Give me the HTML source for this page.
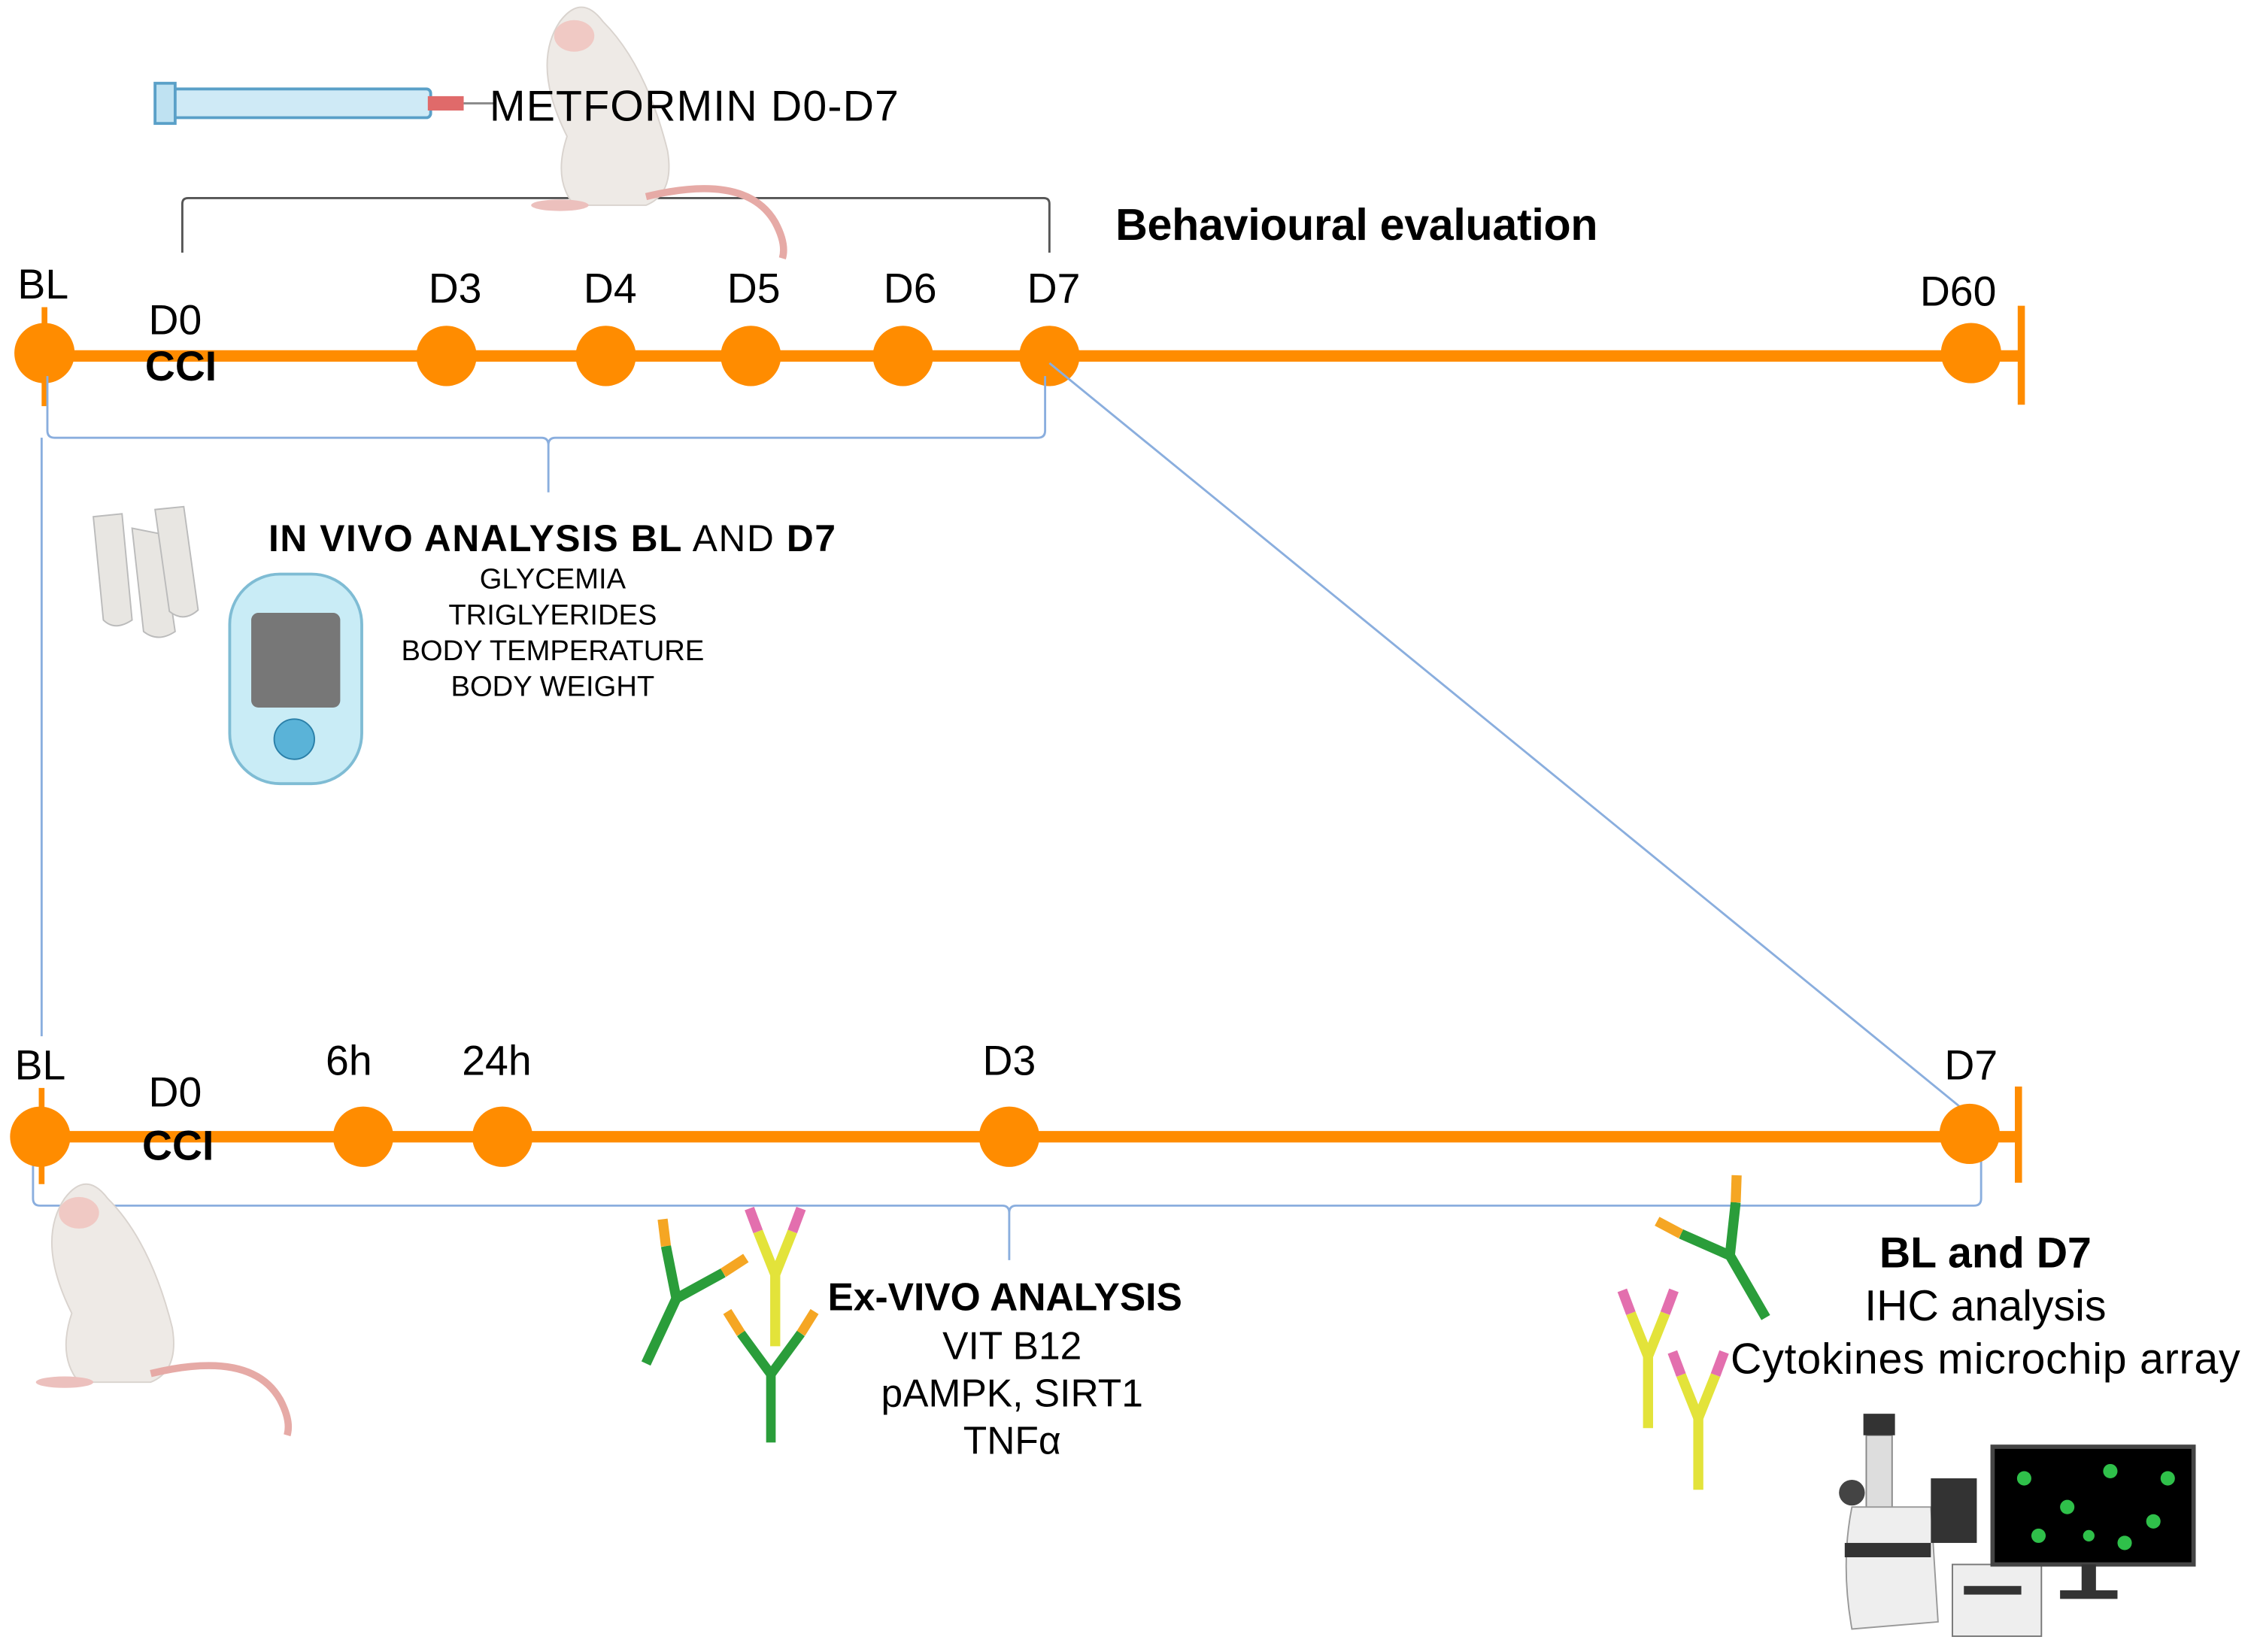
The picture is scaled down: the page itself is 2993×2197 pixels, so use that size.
<!DOCTYPE html>
<html><head><meta charset="utf-8"><style>
html,body{margin:0;padding:0;background:#fff}
svg{display:block}
text{font-family:"Liberation Sans",Arial,sans-serif;fill:#000}
</style></head><body>
<svg width="2993" height="2197" viewBox="0 0 1568 1151" preserveAspectRatio="none" xmlns="http://www.w3.org/2000/svg">
<defs>
<g id="ab">
  <path d="M0 0 L0 -50" stroke="#2a9d3a" stroke-width="7"/>
  <path d="M0 -50 L-22 -80" stroke="#2a9d3a" stroke-width="7"/>
  <path d="M0 -50 L22 -80" stroke="#2a9d3a" stroke-width="7"/>
  <path d="M-22 -80 L-32 -96" stroke="#f5a623" stroke-width="7"/>
  <path d="M22 -80 L32 -96" stroke="#f5a623" stroke-width="7"/>
</g>
<g id="aby">
  <path d="M0 0 L0 -50" stroke="#e3e33a" stroke-width="7"/>
  <path d="M0 -50 L-12 -80" stroke="#e3e33a" stroke-width="7"/>
  <path d="M0 -50 L12 -80" stroke="#e3e33a" stroke-width="7"/>
  <path d="M-12 -80 L-18 -96" stroke="#e36fae" stroke-width="7"/>
  <path d="M12 -80 L18 -96" stroke="#e36fae" stroke-width="7"/>
</g>
<g id="mouse">
  <path d="M-15 -20 Q-40 -70 -20 -100 Q-5 -120 10 -100 Q40 -70 55 -10 Q60 20 40 28 L-10 28 Q-25 10 -15 -20Z" fill="#eeeae6" stroke="#d9d3ce"/>
  <ellipse cx="-10" cy="-90" rx="14" ry="11" fill="#f0c9c4"/>
  <path d="M40 22 Q110 5 130 40 Q138 55 135 65" stroke="#e6aaa6" stroke-width="5" fill="none"/>
  <ellipse cx="-20" cy="28" rx="20" ry="4" fill="#ecc0bd"/>
</g>
</defs>

<path d="M127 176 L127 142 Q127 138 131 138 L427 138 Q432 138 432 132 L432 110 M432 132 Q432 138 437 138 L727 138 Q731 138 731 142 L731 176" stroke="#555" stroke-width="1.5" fill="none"/>

<line x1="31" y1="248" x2="1408" y2="248" stroke="#ff8c00" stroke-width="8"/>
<line x1="31" y1="214" x2="31" y2="283" stroke="#ff8c00" stroke-width="4"/>
<line x1="1408" y1="213" x2="1408" y2="282" stroke="#ff8c00" stroke-width="5"/>
<g fill="#ff8c00">
<circle cx="31" cy="246" r="21"/><circle cx="311" cy="248" r="21"/><circle cx="422" cy="248" r="21"/>
<circle cx="523" cy="248" r="21"/><circle cx="629" cy="248" r="21"/><circle cx="731" cy="248" r="21"/>
<circle cx="1373" cy="246" r="21"/>
</g>
<g font-size="29">
<text x="30" y="208" text-anchor="middle">BL</text>
<text x="122" y="233" text-anchor="middle">D0</text>
<text x="126" y="265" text-anchor="middle" font-weight="bold">CCI</text>
<text x="317" y="211" text-anchor="middle">D3</text>
<text x="425" y="211" text-anchor="middle">D4</text>
<text x="525" y="211" text-anchor="middle">D5</text>
<text x="634" y="211" text-anchor="middle">D6</text>
<text x="734" y="211" text-anchor="middle">D7</text>
<text x="1364" y="213" text-anchor="middle">D60</text>
</g>
<text x="777" y="167" font-size="31" font-weight="bold" textLength="336">Behavioural evaluation</text>

<g stroke="#8aaede" stroke-width="1.5" fill="none">
<path d="M33 262 L33 300 Q33 305 38 305 L377 305 Q382 305 382 310 L382 343 M382 310 Q382 305 387 305 L723 305 Q728 305 728 300 L728 262"/>
<line x1="731" y1="253" x2="1370" y2="775"/>
<line x1="29" y1="305" x2="29" y2="722"/>
<path d="M23 805 L23 835 Q23 840 28 840 L698 840 Q703 840 703 845 L703 878 M703 845 Q703 840 708 840 L1375 840 Q1380 840 1380 835 L1380 805"/>
</g>

<g transform="translate(410,115)"><use href="#mouse"/></g>
<rect x="120" y="62" width="180" height="20" rx="3" fill="#cfeaf6" stroke="#5aa0c8" stroke-width="2"/>
<rect x="108" y="58" width="14" height="28" fill="#bfe2f2" stroke="#5aa0c8" stroke-width="2"/>
<rect x="298" y="67" width="25" height="10" fill="#e06a6a"/>
<line x1="323" y1="72" x2="345" y2="72" stroke="#888" stroke-width="1.5"/>
<text x="341" y="84" font-size="30" textLength="285">METFORMIN D0-D7</text>

<g fill="#e8e6e2" stroke="#bbb">
<path d="M65 360 L85 358 L92 432 Q80 440 72 432Z"/>
<path d="M92 368 L112 372 L122 440 Q110 448 100 440Z"/>
<path d="M108 355 L128 353 L138 425 Q128 434 118 426Z"/>
</g>
<rect x="160" y="400" width="92" height="146" rx="35" fill="#c9ecf6" stroke="#7fbcd4" stroke-width="2"/>
<rect x="175" y="427" width="62" height="66" rx="5" fill="#777"/>
<circle cx="205" cy="515" r="14" fill="#5ab3d8" stroke="#2a7fa8"/>
<text x="187" y="384" font-size="26" textLength="395"><tspan font-weight="bold">IN VIVO ANALYSIS BL</tspan> AND <tspan font-weight="bold">D7</tspan></text>
<g font-size="20" text-anchor="middle">
<text x="385" y="410">GLYCEMIA</text>
<text x="385" y="435">TRIGLYERIDES</text>
<text x="385" y="460">BODY TEMPERATURE</text>
<text x="385" y="485">BODY WEIGHT</text>
</g>

<line x1="28" y1="792" x2="1406" y2="792" stroke="#ff8c00" stroke-width="8"/>
<line x1="29" y1="758" x2="29" y2="825" stroke="#ff8c00" stroke-width="4"/>
<line x1="1406" y1="757" x2="1406" y2="824" stroke="#ff8c00" stroke-width="5"/>
<g fill="#ff8c00">
<circle cx="28" cy="792" r="21"/><circle cx="253" cy="792" r="21"/><circle cx="350" cy="792" r="21"/>
<circle cx="703" cy="792" r="21"/><circle cx="1372" cy="790" r="21"/>
</g>
<g font-size="29">
<text x="28" y="752" text-anchor="middle">BL</text>
<text x="122" y="771" text-anchor="middle">D0</text>
<text x="124" y="808" text-anchor="middle" font-weight="bold">CCI</text>
<text x="243" y="749" text-anchor="middle">6h</text>
<text x="346" y="749" text-anchor="middle">24h</text>
<text x="703" y="749" text-anchor="middle">D3</text>
<text x="1373" y="752" text-anchor="middle">D7</text>
</g>

<g transform="translate(65,935)"><use href="#mouse"/></g>

<g transform="translate(450,950) rotate(25)"><use href="#ab"/></g>
<use href="#aby" transform="translate(540,938)"/>
<use href="#ab" transform="translate(537,1005) scale(0.95)"/>
<text x="700" y="913" font-size="27" font-weight="bold" text-anchor="middle">Ex-VIVO ANALYSIS</text>
<g font-size="27" text-anchor="middle">
<text x="705" y="947">VIT B12</text>
<text x="705" y="980">pAMPK, SIRT1</text>
<text x="705" y="1013">TNFα</text>
</g>

<g transform="translate(1230,918) rotate(-30)"><use href="#ab"/></g>
<use href="#aby" transform="translate(1148,995)"/>
<use href="#aby" transform="translate(1183,1038)"/>
<text x="1383" y="883" font-size="30" font-weight="bold" text-anchor="middle">BL and D7</text>
<g font-size="30" text-anchor="middle">
<text x="1383" y="920">IHC analysis</text>
<text x="1383" y="957" textLength="355">Cytokines microchip array</text>
</g>

<g>
<rect x="1300" y="1000" width="18" height="70" fill="#ddd" stroke="#888"/>
<rect x="1298" y="985" width="22" height="15" fill="#333"/>
<path d="M1290 1050 L1345 1050 L1350 1130 L1290 1135 Q1282 1090 1290 1050Z" fill="#eee" stroke="#999"/>
<rect x="1285" y="1075" width="60" height="10" fill="#333"/>
<circle cx="1290" cy="1040" r="9" fill="#444"/>
<rect x="1345" y="1030" width="32" height="45" fill="#333"/>
<rect x="1360" y="1090" width="62" height="50" fill="#eee" stroke="#777"/>
<rect x="1368" y="1105" width="40" height="6" fill="#333"/>
<rect x="1388" y="1008" width="140" height="82" fill="#000" stroke="#444" stroke-width="3"/>
<g fill="#2fc04a">
<circle cx="1410" cy="1030" r="5"/><circle cx="1440" cy="1050" r="5"/><circle cx="1470" cy="1025" r="5"/>
<circle cx="1500" cy="1060" r="5"/><circle cx="1420" cy="1070" r="5"/><circle cx="1480" cy="1075" r="5"/>
<circle cx="1510" cy="1030" r="5"/><circle cx="1455" cy="1070" r="4"/>
</g>
<rect x="1450" y="1090" width="10" height="20" fill="#333"/>
<rect x="1435" y="1108" width="40" height="6" fill="#333"/>
</g>
</svg>
</body></html>
